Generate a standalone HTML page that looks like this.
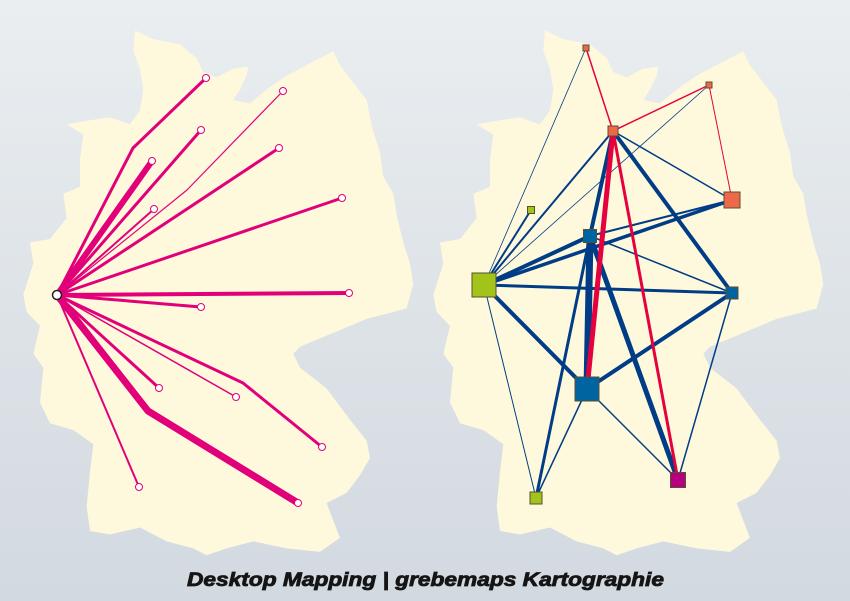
<!DOCTYPE html>
<html><head><meta charset="utf-8"><style>
html,body{margin:0;padding:0}
body{width:850px;height:601px;overflow:hidden;background:linear-gradient(#eaeef1,#dfe4e8 45%,#d2d9e0);}
svg{display:block}
</style></head><body>
<svg width="850" height="601" viewBox="0 0 850 601" xmlns="http://www.w3.org/2000/svg">
<defs>
<path id="de" d="M405,30 L460,55 L540,70 L590,110 L610,150 L650,165 L700,140 L745,135 L740,160 L720,200 L700,230 L750,240 L800,200 L860,160 L900,140 L960,110 L1000,90 L1020,130 L1060,180 L1100,230 L1110,280 L1120,320 L1140,380 L1150,450 L1180,500 L1190,560 L1210,640 L1230,700 L1240,760 L1220,830 L1180,840 L1100,860 L1000,900 L900,940 L880,960 L900,1000 L980,1060 L1050,1150 L1100,1210 L1110,1260 L1080,1310 L1040,1360 L980,1390 L1000,1440 L1020,1490 L960,1530 L860,1520 L760,1500 L680,1520 L620,1540 L580,1520 L500,1500 L420,1460 L330,1480 L270,1470 L260,1400 L270,1300 L280,1220 L220,1180 L150,1160 L120,1100 L130,1000 L100,960 L120,880 L80,840 L70,790 L100,700 L90,640 L150,630 L200,570 L190,500 L240,480 L240,400 L250,330 L200,300 L260,290 L330,280 L390,300 L420,260 L430,200 L420,140 L400,90 Z"/>
</defs>
<use href="#de" transform="translate(0,20) scale(0.3333,0.3476)" fill="#fef9dc"/>
<use href="#de" transform="translate(410,20) scale(0.3333,0.3476)" fill="#fef9dc"/>

<g stroke="#e2007a" fill="none" stroke-linejoin="round" stroke-linecap="round">
<polyline points="57,295 133,148 206,78" stroke-width="3"/>
<line x1="57" y1="295" x2="152" y2="161" stroke-width="6"/>
<line x1="57" y1="295" x2="201" y2="130" stroke-width="3"/>
<polyline points="57,295 187,190 283,91" stroke-width="1.2"/>
<line x1="57" y1="295" x2="154" y2="209" stroke-width="2"/>
<line x1="57" y1="295" x2="279" y2="148" stroke-width="3"/>
<line x1="57" y1="295" x2="342" y2="198" stroke-width="3"/>
<line x1="57" y1="295" x2="349" y2="293" stroke-width="4"/>
<line x1="57" y1="295" x2="201" y2="307" stroke-width="3"/>
<line x1="57" y1="295" x2="159" y2="388" stroke-width="3"/>
<line x1="57" y1="295" x2="236" y2="397" stroke-width="1.5"/>
<polyline points="57,295 243,383 322,447" stroke-width="3"/>
<polyline points="57,295 148,411 298,503" stroke-width="7"/>
<line x1="57" y1="295" x2="139" y2="487" stroke-width="2"/>
</g>
<g fill="#fff" stroke="#e2007a" stroke-width="1">
<circle cx="206" cy="78" r="3.5"/><circle cx="152" cy="161" r="3.5"/><circle cx="201" cy="130" r="3.5"/>
<circle cx="283" cy="91" r="3.5"/><circle cx="154" cy="209" r="3.5"/><circle cx="279" cy="148" r="3.5"/>
<circle cx="342" cy="198" r="3.5"/><circle cx="349" cy="293" r="3.5"/><circle cx="201" cy="307" r="3.5"/>
<circle cx="159" cy="388" r="3.5"/><circle cx="236" cy="397" r="3.5"/><circle cx="322" cy="447" r="3.5"/>
<circle cx="298" cy="503" r="3.5"/><circle cx="139" cy="487" r="3.5"/>
</g>
<circle cx="57" cy="295" r="4.5" fill="#fff" stroke="#222" stroke-width="1.5"/>

<g stroke="#003d86" fill="none" stroke-linecap="round">
<line x1="586" y1="48" x2="484" y2="285" stroke-width="0.8"/>
<line x1="613" y1="131" x2="484" y2="285" stroke-width="2"/>
<line x1="709" y1="85" x2="484" y2="285" stroke-width="0.8"/>
<line x1="531" y1="210" x2="484" y2="285" stroke-width="2"/>
<line x1="613" y1="131" x2="590" y2="236" stroke-width="4"/>
<line x1="613" y1="131" x2="732" y2="200" stroke-width="1.5"/>
<line x1="613" y1="131" x2="732" y2="293" stroke-width="4"/>
<line x1="590" y1="236" x2="732" y2="200" stroke-width="2"/>
<line x1="484" y1="285" x2="732" y2="200" stroke-width="3.5"/>
<line x1="484" y1="285" x2="590" y2="236" stroke-width="4"/>
<line x1="484" y1="285" x2="732" y2="293" stroke-width="3"/>
<line x1="590" y1="236" x2="732" y2="293" stroke-width="1.5"/>
<line x1="590" y1="236" x2="587" y2="389" stroke-width="7"/>
<line x1="590" y1="236" x2="678" y2="480" stroke-width="5"/>
<line x1="484" y1="285" x2="587" y2="389" stroke-width="4"/>
<line x1="484" y1="285" x2="536" y2="498" stroke-width="1"/>
<line x1="587" y1="389" x2="536" y2="498" stroke-width="1.5"/>
<line x1="590" y1="236" x2="536" y2="498" stroke-width="3"/>
<line x1="587" y1="389" x2="732" y2="293" stroke-width="4"/>
<line x1="587" y1="389" x2="678" y2="480" stroke-width="1.5"/>
<line x1="732" y1="293" x2="678" y2="480" stroke-width="1.5"/>
</g>
<g stroke="#e5003e" fill="none" stroke-linecap="round">
<line x1="586" y1="48" x2="613" y2="131" stroke-width="1.5"/>
<line x1="613" y1="131" x2="709" y2="85" stroke-width="1.5"/>
<line x1="709" y1="85" x2="732" y2="200" stroke-width="1"/>
<line x1="613" y1="131" x2="587" y2="389" stroke-width="5"/>
<line x1="613" y1="131" x2="678" y2="480" stroke-width="3"/>
</g>
<g stroke="#5a5030" stroke-width="1">
<rect x="583" y="45" width="6" height="6" fill="#ec6a4a"/>
<rect x="608" y="126" width="10" height="10" fill="#ec6a4a"/>
<rect x="706" y="82" width="6" height="6" fill="#ec6a4a"/>
<rect x="724" y="192" width="16" height="16" fill="#ec6a4a"/>
<rect x="527.5" y="206.5" width="7" height="7" fill="#a2c41a"/>
<rect x="583.5" y="229.5" width="13" height="13" fill="#0064a0"/>
<rect x="472" y="273" width="24" height="24" fill="#a2c41a"/>
<rect x="726" y="287" width="12" height="12" fill="#0064a0"/>
<rect x="575" y="377" width="24" height="24" fill="#0064a0"/>
<rect x="670.5" y="472.5" width="15" height="15" fill="#b8007e"/>
<rect x="530" y="492" width="12" height="12" fill="#a2c41a"/>
</g>
<text x="187" y="586" textLength="477" lengthAdjust="spacingAndGlyphs" font-family="Liberation Sans, sans-serif" font-weight="bold" font-style="italic" font-size="19" fill="#151515" stroke="#151515" stroke-width="0.8">Desktop Mapping | grebemaps Kartographie</text>
</svg>
</body></html>
